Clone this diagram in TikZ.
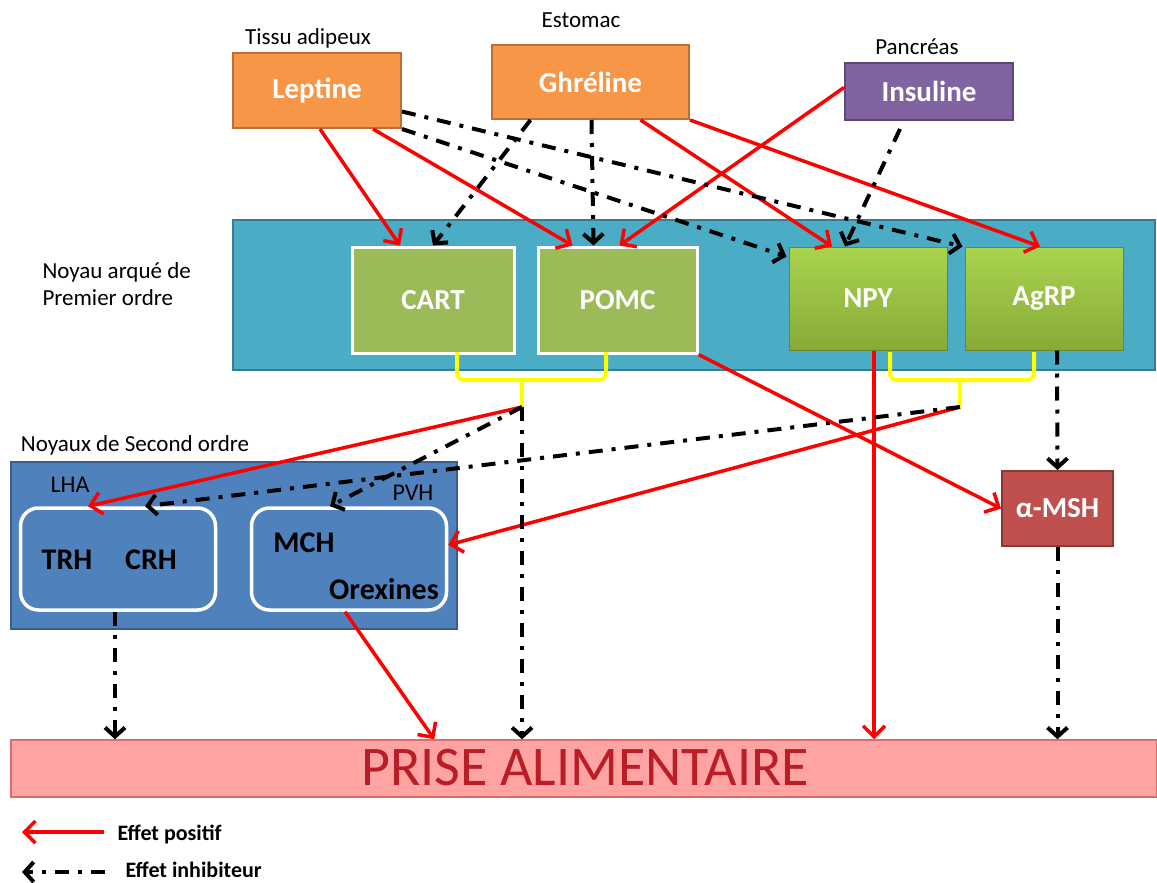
\documentclass[tikz,border=0pt]{standalone}
\usepackage{fontspec}
\setmainfont{Carlito}
\usetikzlibrary{arrows.meta, calc}
\definecolor{orangefill}{RGB}{247,150,70}
\definecolor{orangeline}{RGB}{190,110,50}
\definecolor{purplefill}{RGB}{128,100,162}
\definecolor{purpleline}{RGB}{92,71,118}
\definecolor{tealfill}{RGB}{75,172,198}
\definecolor{tealline}{RGB}{53,125,145}
\definecolor{greenfill}{RGB}{155,187,89}
\definecolor{npytop}{RGB}{170,212,78}
\definecolor{npybottom}{RGB}{135,170,55}
\definecolor{npyline}{RGB}{105,135,45}
\definecolor{bluefill}{RGB}{79,129,189}
\definecolor{blueline}{RGB}{56,93,138}
\definecolor{mshfill}{RGB}{192,80,77}
\definecolor{mshline}{RGB}{140,56,54}
\definecolor{prisefill}{RGB}{255,163,163}
\definecolor{priseline}{RGB}{217,110,110}
\definecolor{prisetext}{RGB}{185,30,38}
\definecolor{arrowred}{RGB}{255,0,0}
\definecolor{braceyellow}{RGB}{255,255,0}

\begin{document}
\begin{tikzpicture}[x=1pt, y=-1pt,
    every node/.style={font=\fontsize{23}{27}\selectfont},
    hormone/.style={rectangle, draw=#1line, fill=#1fill, line width=2pt, text=white, font=\fontsize{29}{34}\selectfont\bfseries},
    firstbox/.style={rectangle, draw=white, fill=greenfill, line width=3pt, text=white, font=\fontsize{29}{34}\selectfont\bfseries, minimum height=106pt},
    orexbox/.style={rectangle, draw=npyline, line width=1pt, top color=npytop, bottom color=npybottom, text=white, font=\fontsize{29}{34}\selectfont\bfseries, minimum width=158pt, minimum height=103pt},
    secondbox/.style={rectangle, draw=white, line width=3.5pt, rounded corners=18pt, minimum width=195pt, minimum height=102pt},
    peptide/.style={font=\fontsize{30}{34}\selectfont\bfseries},
    brace/.style={draw=braceyellow, line width=4pt, rounded corners=7pt},
    positive/.style={draw=arrowred, line width=3.5pt, -{Straight Barb[length=11pt, width=22pt]}},
    inhibit/.style={draw=black, line width=4pt, dash pattern=on 14pt off 9pt on 4pt off 9pt, -{Straight Barb[length=9pt, width=20pt]}}
]
\useasboundingbox (0,0) rectangle (1157,883);
\fill[white] (0,0) rectangle (1157,883);

% noyaux
\node[rectangle, draw=tealline, fill=tealfill, line width=2pt, minimum width=922pt, minimum height=150pt] (arque) at (694,295) {};
\node[anchor=west, align=left, font=\fontsize{23}{27}\selectfont] (arquelabel) at (39,284) {Noyau arqué de\\Premier ordre};
\node[rectangle, draw=blueline, fill=bluefill, line width=2pt, minimum width=446pt, minimum height=167pt] (second) at (234,545.5) {};
\node (secondlabel) at (135,445) {Noyaux de Second ordre};

\node[firstbox, minimum width=162pt] (cart) at (433,300) {CART};
\node[firstbox, minimum width=159pt] (pomc) at (617.5,300) {POMC};
\node[orexbox] (npy) at (868,298.5) {NPY};
\node[orexbox] (agrp) at (1044,298.5) {AgRP};

\node[secondbox] (lhabox) at (118,559) {};
\node[secondbox] (pvhbox) at (349,559) {};
\node[font=\fontsize{24}{28}\selectfont] (lha) at (70,485) {LHA};
\node[font=\fontsize{24}{28}\selectfont] (pvh) at (413,493) {PVH};
\node[peptide] (trh) at (67,560) {TRH};
\node[peptide] (crh) at (151,560) {CRH};
\node[peptide] (mch) at (304,543) {MCH};
\node[peptide] (orexines) at (384,589) {Orexines};

\node[hormone=msh, minimum width=111pt, minimum height=75pt] (amsh) at (1057.5,508.5) {α-MSH};

% hormones
\node[hormone=orange, minimum width=168pt, minimum height=75pt] (leptine) at (317,90.5) {Leptine};
\node[hormone=orange, minimum width=197pt, minimum height=74pt] (ghreline) at (590.5,82) {Ghréline};
\node[hormone=purple, minimum width=168pt, minimum height=57pt] (insuline) at (929,91.5) {Insuline};
\node (tissu) at (308,38) {Tissu adipeux};
\node (estomac) at (581,20) {Estomac};
\node (pancreas) at (917,47) {Pancréas};

% prise alimentaire
\node[rectangle, draw=priseline, fill=prisefill, line width=1.5pt, minimum width=1146pt, minimum height=57pt] (prise) at (584,768.5) {};
\node[text=prisetext, font=\fontsize{56}{64}\selectfont] (prisetitle) at (585,768) {PRISE ALIMENTAIRE};

% accolades
\draw[brace] (457,352) -- (457,380) -- (606,380) -- (606,352);
\draw[brace] (890,352) -- (890,380) -- (1034,380) -- (1034,352);
\draw[draw=braceyellow, line width=4pt] (522,380) -- (522,407) coordinate (bl);
\draw[draw=braceyellow, line width=4pt] (960,380) -- (960,407) coordinate (br);

% effets positifs
\draw[positive] ([xshift=3pt]leptine.south) -- ([xshift=-33pt]cart.north);
\draw[positive] ([xshift=56pt]leptine.south) -- ([xshift=-45pt]pomc.north);
\draw[positive] ([xshift=50pt]ghreline.south) -- ([xshift=-36pt]npy.north);
\draw[positive] (ghreline.south east) -- ([xshift=-4pt]agrp.north);
\draw[positive] ([yshift=4pt]insuline.west) -- ([xshift=2pt]pomc.north);
\draw[positive] (pomc.south east) -- (amsh.west);
\draw[positive] (bl) -- ([xshift=-30pt]lhabox.north);
\draw[positive] (br) -- ([yshift=14pt]pvhbox.east);
\draw[positive] ([xshift=6pt]npy.south) -- ([xshift=6pt]npy.south |- prise.north);
\draw[positive] ([xshift=-4pt]pvhbox.south) -- ($(prise.north west)+(424,0)$);

% effets inhibiteurs
\draw[inhibit] ([yshift=-21pt]leptine.east) -- ([xshift=-2pt]agrp.north west);
\draw[inhibit] (leptine.south east) -- ([xshift=-2pt, yshift=-10pt]npy.north west);
\draw[inhibit] ([xshift=-60pt]ghreline.south) -- (cart.north);
\draw[inhibit] ([xshift=1pt]ghreline.south) -- ([xshift=-24pt]pomc.north);
\draw[inhibit] ([xshift=-29pt, yshift=-8pt]insuline.south) -- ([xshift=-23pt]npy.north);
\draw[inhibit] (bl) -- ([xshift=-19pt]pvhbox.north);
\draw[inhibit] (br) -- ([xshift=27pt]lhabox.north);
\draw[inhibit] (bl) -- (bl |- prise.north);
\draw[inhibit] ([xshift=13pt]agrp.south) -- (amsh.north);
\draw[inhibit] (amsh.south) -- (amsh.south |- prise.north);
\draw[inhibit] ([xshift=-3pt]lhabox.south) -- ([xshift=-3pt]lhabox.south |- prise.north);

% legende
\node[anchor=west, font=\fontsize{22}{26}\selectfont\bfseries] (legpos) at (114,834) {Effet positif};
\node[anchor=west, font=\fontsize{22}{26}\selectfont\bfseries] (leginh) at (122,870) {Effet inhibiteur};
\draw[positive] ([xshift=-10pt, yshift=2pt]legpos.west) -- ++(-82,0);
\draw[inhibit] ([xshift=-17pt, yshift=-2pt]leginh.west) -- ++(-83,0);
\end{tikzpicture}
\end{document}
